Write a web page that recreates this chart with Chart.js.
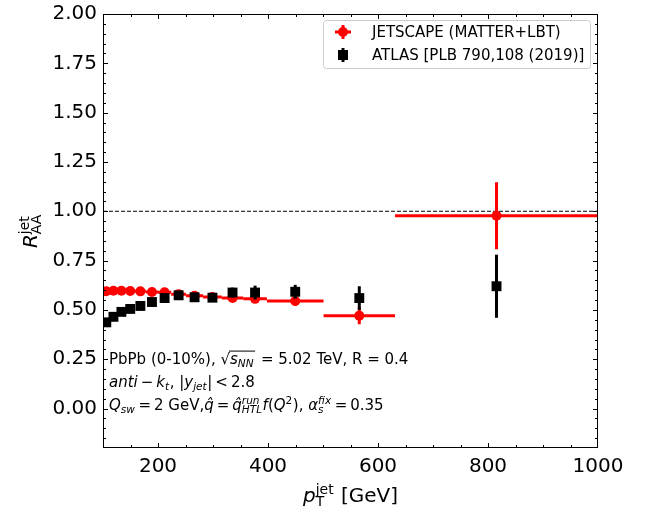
<!DOCTYPE html>
<html>
<head>
<meta charset="utf-8">
<script src="https://cdn.jsdelivr.net/npm/chart.js@4.4.0/dist/chart.umd.min.js"></script>
<style>
  body { margin: 0; background: #fff; }
</style>
</head>
<body>
<canvas id="raaChart" width="648" height="510"></canvas>
<script>
// pT bins (GeV)
const binLow   = [100, 112, 126, 141, 158, 178, 200, 224, 251, 282, 316, 355, 398, 501, 631];
const binHigh  = [112, 126, 141, 158, 178, 200, 224, 251, 282, 316, 355, 398, 501, 631, 1000];
const ptCenter = [106, 119, 133.5, 149.5, 168, 189, 212, 237.5, 266.5, 299, 335.5, 376.5, 449.5, 566, 815.5];

// JETSCAPE (MATTER+LBT)
const jetscapeRaa = [0.595, 0.597, 0.597, 0.596, 0.594, 0.591, 0.589, 0.580, 0.572, 0.565, 0.560, 0.556, 0.545, 0.471, 0.977];
const jetscapeErr = [0.008, 0.008, 0.008, 0.008, 0.008, 0.009, 0.010, 0.010, 0.012, 0.012, 0.014, 0.016, 0.025, 0.044, 0.170];

// ATLAS data
const atlasRaa = [0.437, 0.465, 0.490, 0.505, 0.520, 0.540, 0.560, 0.574, 0.564, 0.562, 0.588, 0.588, 0.592, 0.560, 0.620];
const atlasErr = [0.015, 0.015, 0.015, 0.015, 0.015, 0.015, 0.016, 0.017, 0.018, 0.019, 0.025, 0.035, 0.035, 0.060, 0.160];

const xTicks = [200, 400, 600, 800, 1000];
const yTicks = [0, 0.25, 0.5, 0.75, 1.0, 1.25, 1.5, 1.75, 2.0];

const FONT = '"DejaVu Sans"';

const jetscapePoints = ptCenter.map((x, i) => ({ x: x, y: jetscapeRaa[i], yErr: jetscapeErr[i], xLo: binLow[i], xHi: binHigh[i] }));
const atlasPoints = ptCenter.map((x, i) => ({ x: x, y: atlasRaa[i], yErr: atlasErr[i] }));

// small mathtext-like renderer: runs of plain / italic / sup / sub / sqrt / gap
function fontStr(size, it) {
    return (it ? 'italic ' : '') + size + 'px ' + FONT;
}

function drawMath(ctx, x, y, runs, size, dry) {
    let cx = x;
    runs.forEach(r => {
        if (r.gap !== undefined) {
            cx += r.gap * size;
        } else if (r.sqrt) {
            ctx.font = fontStr(size, false);
            if (!dry) ctx.fillText('\u221A', cx, y);
            cx += ctx.measureText('\u221A').width;
            const start = cx;
            cx += drawMath(ctx, cx, y, r.sqrt, size, dry);
            if (!dry) {
                ctx.save();
                ctx.lineWidth = 1;
                ctx.beginPath();
                ctx.moveTo(start - 1, y - size * 0.86);
                ctx.lineTo(cx + 1, y - size * 0.86);
                ctx.stroke();
                ctx.restore();
            }
            cx += 2;
        } else if (r.sup !== undefined || r.sub !== undefined) {
            const s = size * 0.7;
            ctx.font = fontStr(s, r.it);
            let w = 0;
            if (r.sup) {
                if (!dry) ctx.fillText(r.sup, cx, y - size * 0.4);
                w = Math.max(w, ctx.measureText(r.sup).width);
            }
            if (r.sub) {
                if (!dry) ctx.fillText(r.sub, cx, y + size * 0.22);
                w = Math.max(w, ctx.measureText(r.sub).width);
            }
            cx += w + size * 0.04;
        } else {
            ctx.font = fontStr(size, r.it);
            if (!dry) ctx.fillText(r.t, cx, y);
            cx += ctx.measureText(r.t).width;
        }
    });
    return cx - x;
}

const G = { gap: 0.2 };
const noteLines = [
    [{ t: 'PbPb (0-10%), ' }, { sqrt: [{ t: 's', it: true }, { sub: 'NN', it: true }] }, { t: ' = 5.02 TeV, R = 0.4' }],
    [{ t: 'anti', it: true }, G, { t: '\u2212' }, G, { t: 'k', it: true }, { sub: 't', it: true }, { t: ', |' },
     { t: 'y', it: true }, { sub: 'jet', it: true }, { t: '|' }, G, { t: '<' }, G, { t: '2.8' }],
    [{ t: 'Q', it: true }, { sub: 'sw', it: true }, G, { t: '=' }, G, { t: '2 GeV,' }, { t: 'q\u0302', it: true }, G, { t: '=' }, G,
     { t: 'q\u0302', it: true }, { sup: 'run', sub: 'HTL', it: true }, { t: 'f', it: true }, { t: '(' },
     { t: 'Q', it: true }, { sup: '2' }, { t: '), ' }, { t: '\u03B1', it: true }, { sup: 'fix', sub: 's', it: true },
     G, { t: '=' }, G, { t: '0.35' }]
];

const yTitle = [{ t: 'R', it: true }, { sup: 'jet', sub: 'AA' }];
const xTitle = [{ t: 'p', it: true }, { sup: 'jet', sub: 'T' }, { t: ' [GeV]' }];

// error bars are drawn just before each dataset's markers
const errorBarPlugin = {
    id: 'errorBars',
    beforeDatasetDraw(chart, args) {
        const ds = chart.data.datasets[args.index];
        const xs = chart.scales.x, ys = chart.scales.y;
        const ctx = chart.ctx;
        ctx.save();
        ctx.strokeStyle = ds.errColor;
        ctx.lineWidth = 3;
        ds.data.forEach(p => {
            const px = xs.getPixelForValue(p.x);
            const py = ys.getPixelForValue(p.y);
            ctx.beginPath();
            ctx.moveTo(px, ys.getPixelForValue(p.y - p.yErr));
            ctx.lineTo(px, ys.getPixelForValue(p.y + p.yErr));
            if (p.xLo !== undefined) {
                ctx.moveTo(xs.getPixelForValue(p.xLo), py);
                ctx.lineTo(xs.getPixelForValue(p.xHi), py);
            }
            ctx.stroke();
        });
        ctx.restore();
    }
};

const framePlugin = {
    id: 'frame',
    beforeDatasetsDraw(chart) {
        const { ctx, chartArea: a, scales: { y } } = chart;
        const y1 = y.getPixelForValue(1.0);
        ctx.save();
        ctx.strokeStyle = '#000';
        ctx.lineWidth = 1;
        ctx.setLineDash([4, 2]);
        ctx.beginPath();
        ctx.moveTo(a.left, y1);
        ctx.lineTo(a.right, y1);
        ctx.stroke();
        ctx.restore();
    },
    afterDraw(chart) {
        const { ctx, chartArea: a, scales: { x, y } } = chart;
        ctx.save();
        ctx.strokeStyle = '#000';
        ctx.fillStyle = '#000';
        ctx.lineWidth = 1;

        // spines
        ctx.strokeRect(a.left + 0.5, a.top + 0.5, a.right - a.left - 1, a.bottom - a.top - 1);

        // inward ticks on all four sides
        ctx.beginPath();
        for (let v = 150; v < 1000; v += 50) {
            const len = xTicks.includes(v) ? 5 : 3;
            const px = Math.round(x.getPixelForValue(v)) + 0.5;
            ctx.moveTo(px, a.bottom); ctx.lineTo(px, a.bottom - len);
            ctx.moveTo(px, a.top); ctx.lineTo(px, a.top + len);
        }
        for (let k = -3; k < 40; k++) {
            const v = k * 0.05;
            const len = (k % 5 === 0) ? 5 : 3;
            const py = Math.round(y.getPixelForValue(v)) + 0.5;
            ctx.moveTo(a.left, py); ctx.lineTo(a.left + len, py);
            ctx.moveTo(a.right, py); ctx.lineTo(a.right - len, py);
        }
        ctx.stroke();

        // annotations
        const baselines = [364, 387, 410];
        noteLines.forEach((line, i) => drawMath(ctx, a.left + 6, baselines[i], line, 15));

        // axis titles
        const tw = drawMath(ctx, 0, 0, xTitle, 20, true);
        drawMath(ctx, (a.left + a.right) / 2 - tw / 2, 502, xTitle, 20);
        const yw = drawMath(ctx, 0, 0, yTitle, 20, true);
        ctx.save();
        ctx.translate(37, (a.top + a.bottom) / 2);
        ctx.rotate(-Math.PI / 2);
        drawMath(ctx, -yw / 2, 0, yTitle, 20);
        ctx.restore();

        // legend
        const lx = 323, ly = 20, lw = 267, lh = 48;
        ctx.save();
        ctx.fillStyle = 'rgba(255,255,255,0.8)';
        ctx.strokeStyle = '#cccccc';
        ctx.beginPath();
        ctx.roundRect(lx + 0.5, ly + 0.5, lw, lh, 3);
        ctx.fill();
        ctx.stroke();
        ctx.restore();

        chart.data.datasets.forEach((ds, i) => {
            const my = 32 + i * 23;
            const mx = 343;
            ctx.save();
            ctx.strokeStyle = ds.errColor;
            ctx.fillStyle = ds.errColor;
            ctx.lineWidth = 3;
            ctx.beginPath();
            ctx.moveTo(mx, my - 7); ctx.lineTo(mx, my + 7);
            if (i === 0) { ctx.moveTo(mx - 8, my); ctx.lineTo(mx + 8, my); }
            ctx.stroke();
            if (i === 0) {
                ctx.beginPath();
                ctx.arc(mx, my, 5, 0, Math.PI * 2);
                ctx.fill();
            } else {
                ctx.fillRect(mx - 5, my - 5, 10, 10);
            }
            ctx.restore();
            ctx.font = fontStr(15, false);
            ctx.textBaseline = 'middle';
            ctx.fillText(ds.label, 372, my + 1);
            ctx.textBaseline = 'alphabetic';
        });

        ctx.restore();
    }
};

const ctx = document.getElementById('raaChart').getContext('2d');
new Chart(ctx, {
    type: 'scatter',
    data: {
        datasets: [
            {
                label: 'JETSCAPE (MATTER+LBT)',
                data: jetscapePoints,
                pointStyle: 'circle',
                pointRadius: 5,
                pointHoverRadius: 5,
                backgroundColor: '#ff0000',
                borderColor: '#ff0000',
                borderWidth: 0,
                order: 2,
                errColor: '#ff0000'
            },
            {
                label: 'ATLAS [PLB 790,108 (2019)]',
                data: atlasPoints,
                pointStyle: 'rect',
                pointRadius: 7,
                pointHoverRadius: 7,
                backgroundColor: '#000000',
                borderColor: '#000000',
                borderWidth: 0,
                order: 1,
                errColor: '#000000'
            }
        ]
    },
    options: {
        responsive: false,
        animation: false,
        devicePixelRatio: 1,
        layout: { padding: { top: 14, right: 50, left: 0, bottom: 0 } },
        plugins: { legend: { display: false }, tooltip: { enabled: false } },
        scales: {
            x: {
                type: 'linear',
                min: 100,
                max: 1000,
                grid: { display: false, drawTicks: false },
                border: { display: false },
                afterBuildTicks: s => { s.ticks = xTicks.map(v => ({ value: v })); },
                afterFit: s => { s.height = 62; s.paddingLeft = 0; s.paddingRight = 0; },
                ticks: {
                    font: { family: FONT, size: 20 },
                    color: '#000',
                    padding: 7,
                    maxRotation: 0,
                    callback: v => String(v)
                }
            },
            y: {
                type: 'linear',
                min: -0.2,
                max: 2.0,
                grid: { display: false, drawTicks: false },
                border: { display: false },
                afterBuildTicks: s => { s.ticks = yTicks.map(v => ({ value: v })); },
                afterFit: s => { s.width = 103; s.paddingTop = 0; s.paddingBottom = 0; },
                ticks: {
                    font: { family: FONT, size: 20 },
                    color: '#000',
                    padding: 6,
                    callback: v => v.toFixed(2)
                }
            }
        }
    },
    plugins: [errorBarPlugin, framePlugin]
});
</script>
</body>
</html>
